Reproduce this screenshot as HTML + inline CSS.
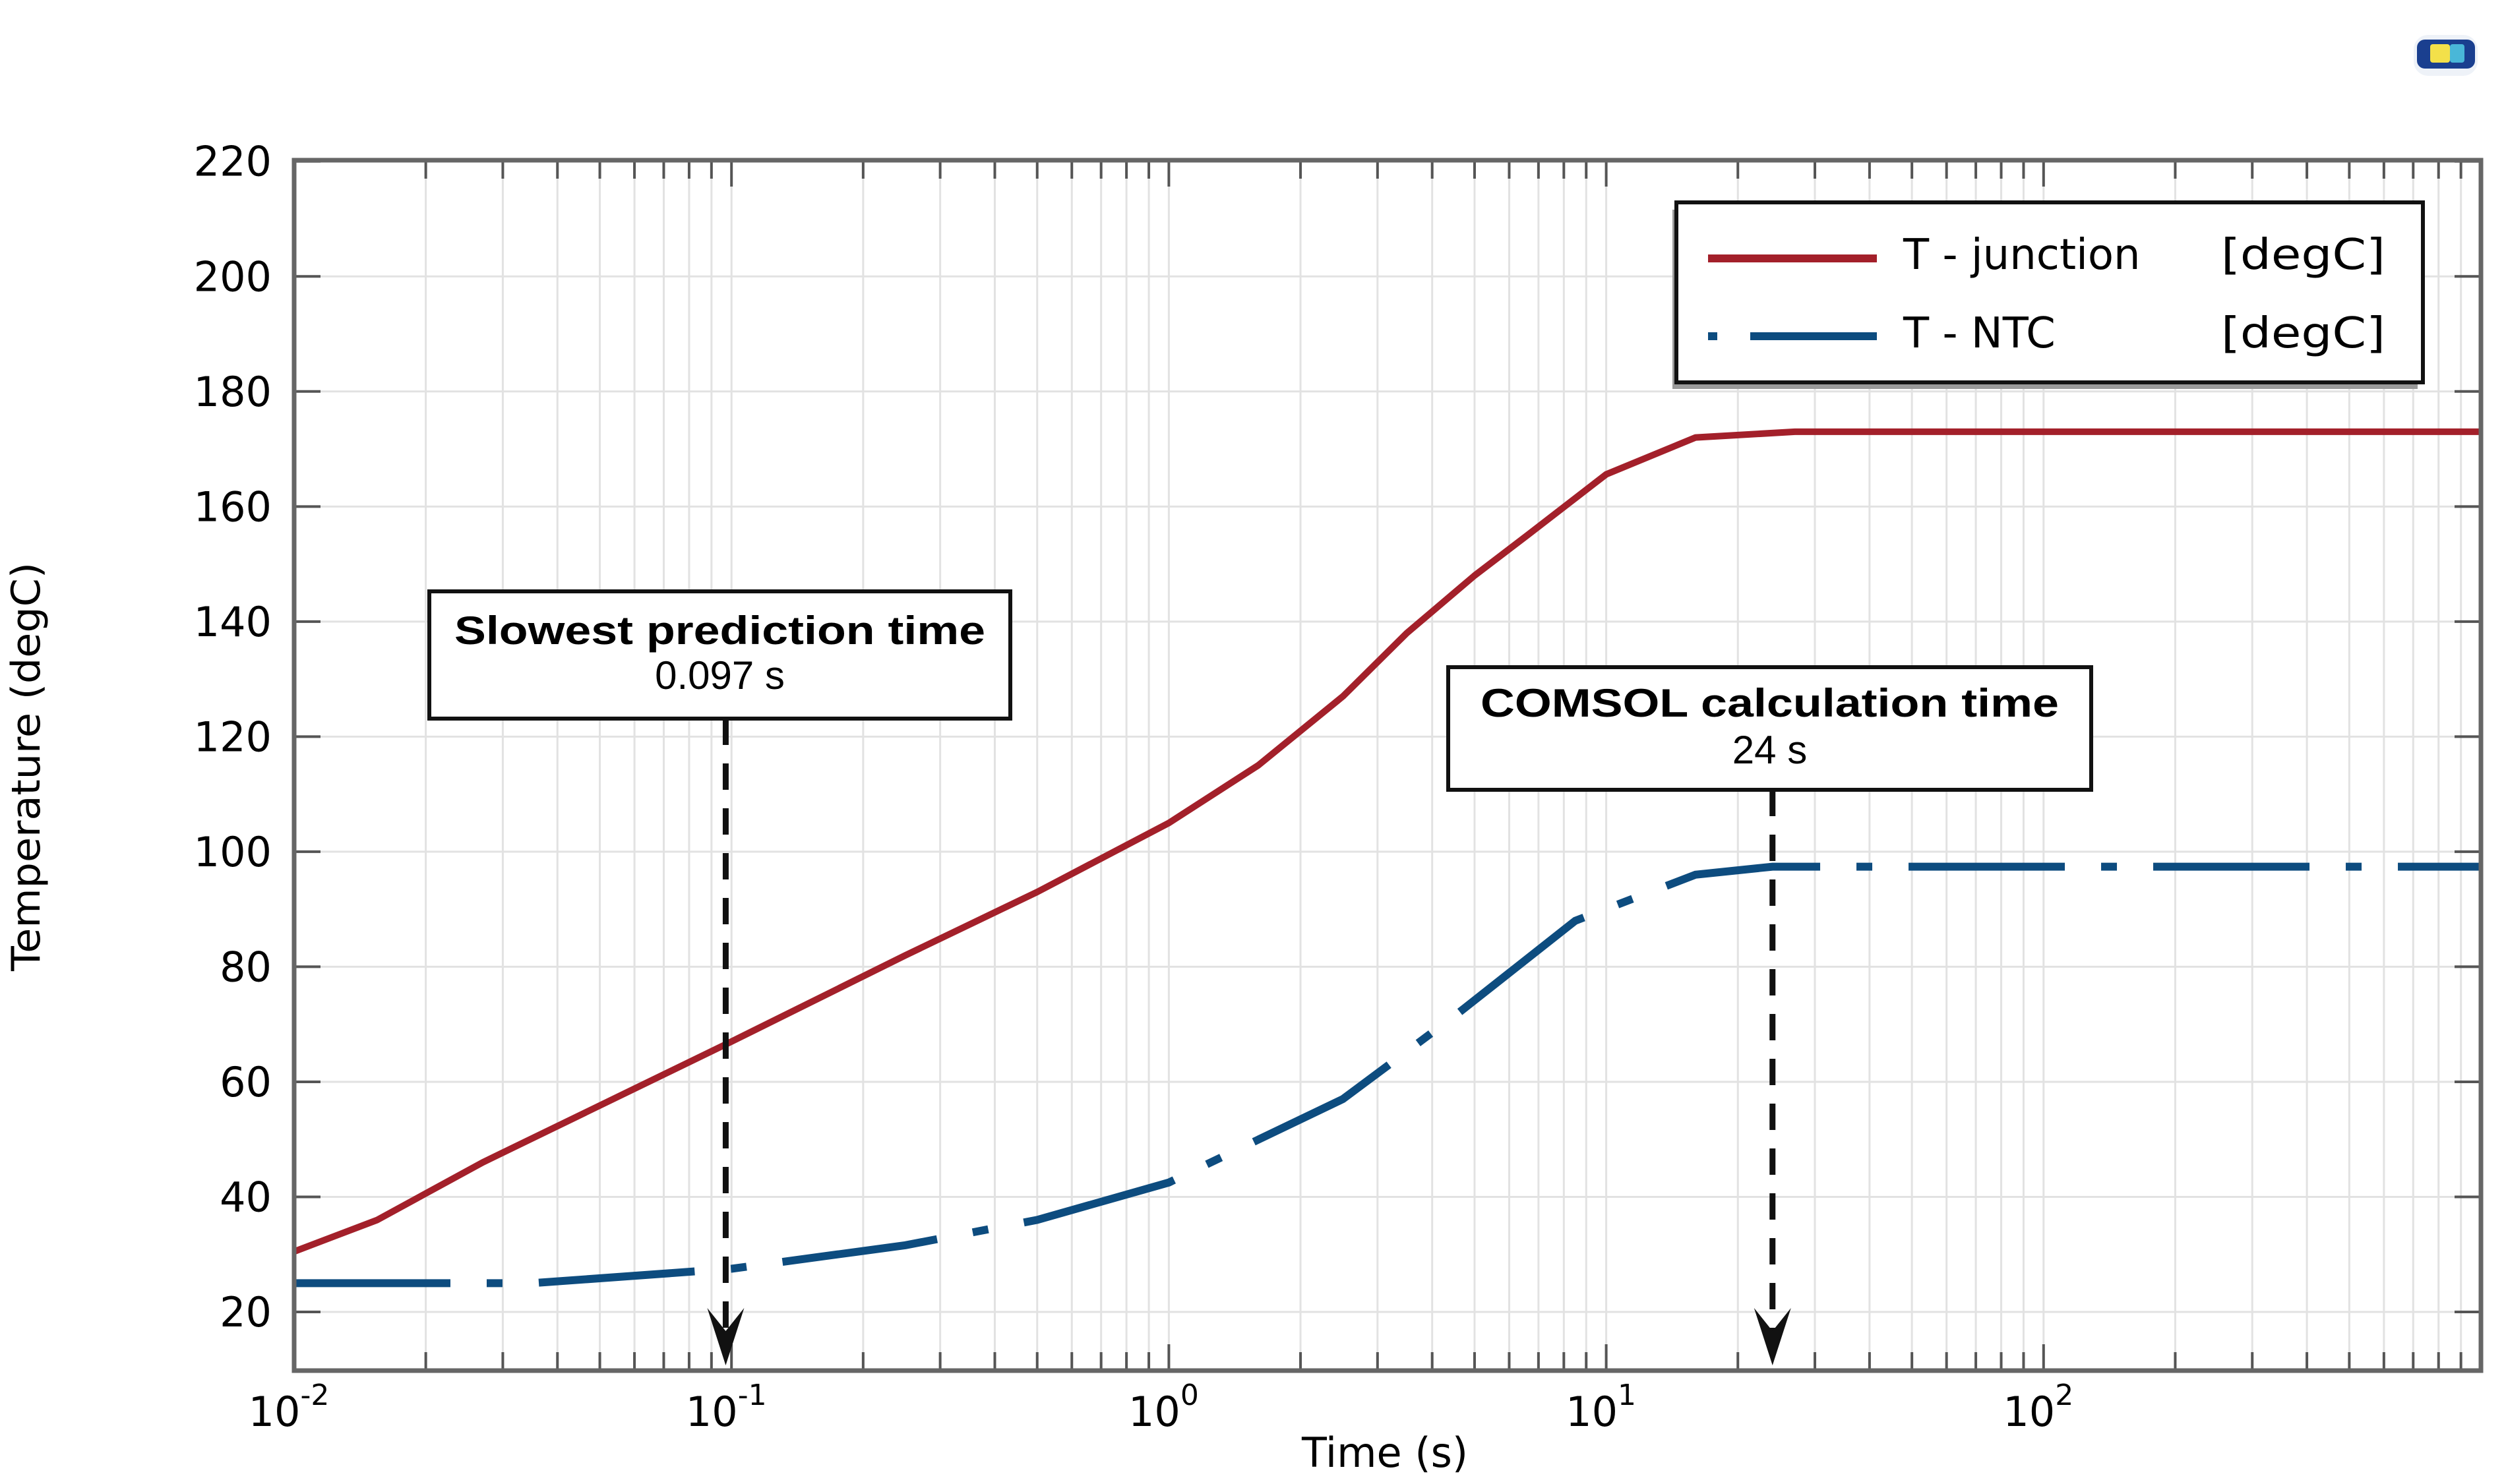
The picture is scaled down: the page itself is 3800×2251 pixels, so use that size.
<!DOCTYPE html>
<html><head><meta charset="utf-8"><style>
html,body{margin:0;padding:0;background:#fff;}
svg{display:block;}
text{font-family:"DejaVu Sans","Liberation Sans",sans-serif;}
</style></head><body>
<svg id="chart" width="3800" height="2251" viewBox="0 0 3800 2251" xmlns="http://www.w3.org/2000/svg">
<g id="grid"></g>
<g id="series"></g>
<g id="axes"></g>
<g id="annot"></g>
<text x="60" y="1163" transform="rotate(-90 60 1163)" text-anchor="middle" font-size="60" textLength="620" lengthAdjust="spacingAndGlyphs">Temperature (degC)</text>
<text x="2100" y="2225" text-anchor="middle" font-size="62">Time (s)</text>
<g>
<rect x="3660" y="53" width="97" height="62" rx="22" fill="#eef2f8"/>
<rect x="3665" y="60" width="88" height="44" rx="12" fill="#1a3f8f"/>
<rect x="3685" y="67" width="30" height="28" rx="4" fill="#f3e04a"/>
<rect x="3715" y="67" width="22" height="28" rx="4" fill="#49b7d8"/>
</g>
</svg>
<script>
const xTickExps = [-2, -1, 0, 1, 2];
const yTicks = [20, 40, 60, 80, 100, 120, 140, 160, 180, 200, 220];
const junctionT = [0.01, 0.0155, 0.027, 0.1, 0.25, 0.5, 1, 1.6, 2.5, 3.5, 5, 6.6, 10, 16, 27, 1000];
const junctionV = [30.5, 36, 46, 67, 82, 93, 105, 115, 127, 138, 148, 155, 165.6, 172, 173, 173];
const ntcT = [0.01, 0.035, 0.1, 0.25, 0.5, 1, 2.5, 4.6, 8.5, 16, 24, 1000];
const ntcV = [25, 25, 27.5, 31.6, 36, 42.5, 57, 72, 88, 96, 97.4, 97.4];
const markerTimes = [0.097, 24];

const NS = "http://www.w3.org/2000/svg";
const X0 = 446, X1 = 3762, Y0 = 2079, Y1 = 243;
const xMin = -2, xMax = 3, yMin = 9.8, yMax = 220.2;
function xs(t){ return X0 + (Math.log10(t) - xMin) / (xMax - xMin) * (X1 - X0); }
function ys(v){ return Y0 - (v - yMin) / (yMax - yMin) * (Y0 - Y1); }
function mk(tag, attrs, parent){ const e = document.createElementNS(NS, tag); for (const k in attrs) e.setAttribute(k, attrs[k]); parent.appendChild(e); return e; }

const grid = document.getElementById('grid');
const axes = document.getElementById('axes');
const series = document.getElementById('series');
const annot = document.getElementById('annot');

mk('rect', {x: X0, y: Y1, width: X1 - X0, height: Y0 - Y1, fill: '#fff'}, grid);
for (let e = xMin; e < xMax; e++) {
  for (let m = 1; m <= 9; m++) {
    const x = xs(m * Math.pow(10, e));
    const gl = mk('line', {x1: x, x2: x, y1: Y1, y2: Y0, stroke: '#e2e2e2', 'stroke-width': 3}, grid);
    
    
    const len = m === 1 ? 40 : 28;
    const tb = mk('line', {x1: x, x2: x, y1: Y0, y2: Y0 - len, stroke: '#555', 'stroke-width': 4}, axes);
    
    
    const tt = mk('line', {x1: x, x2: x, y1: Y1, y2: Y1 + len, stroke: '#555', 'stroke-width': 4}, axes);
    
    
  }
}
yTicks.forEach(v => {
  const y = ys(v);
  const gl = mk('line', {x1: X0, x2: X1, y1: y, y2: y, stroke: '#e2e2e2', 'stroke-width': 3}, grid);
  
  
  const t1 = mk('line', {x1: X0, x2: X0 + 40, y1: y, y2: y, stroke: '#555', 'stroke-width': 4}, axes);
  
  
  const t2 = mk('line', {x1: X1, x2: X1 - 40, y1: y, y2: y, stroke: '#555', 'stroke-width': 4}, axes);
  
  
  const lab = mk('text', {x: 412, y: y + 22, 'text-anchor': 'end', 'font-size': 62}, axes);
  lab.textContent = v;
  
  
});
const frame = mk('rect', {x: X0, y: Y1, width: X1 - X0, height: Y0 - Y1, fill: 'none', stroke: '#666', 'stroke-width': 7}, axes);


xTickExps.forEach(e => {
  const x = xs(Math.pow(10, e));
  const t = mk('text', {x: x - 8, y: 2163, 'text-anchor': 'middle', 'font-size': 62}, axes);
  t.textContent = '10';
  const s = mk('tspan', {dy: -32, 'font-size': 44}, t);
  s.textContent = String(e);
  
  
});

function pathD(ts, vs){ return ts.map((t, i) => (i ? 'L' : 'M') + xs(t).toFixed(1) + ' ' + ys(vs[i]).toFixed(1)).join(' '); }
const jl = mk('path', {d: pathD(junctionT, junctionV), fill: 'none', stroke: '#a3202a', 'stroke-width': 10, 'stroke-linejoin': 'round'}, series);


const nl = mk('path', {d: pathD(ntcT, ntcV), fill: 'none', stroke: '#0d4c7f', 'stroke-width': 12, 'stroke-dasharray': '237 55 24 55'}, series);



// legend
const lg = mk('g', {}, annot);


mk('rect', {x: 2536, y: 318, width: 1130, height: 272, fill: '#999'}, lg);
mk('rect', {x: 2542, y: 307, width: 1132, height: 273, fill: '#fff', stroke: '#111', 'stroke-width': 6}, lg);
const le1 = mk('line', {x1: 2590, x2: 2846, y1: 392, y2: 392, stroke: '#a3202a', 'stroke-width': 12}, lg);


const le2 = mk('line', {x1: 2590, x2: 2846, y1: 510, y2: 510, stroke: '#0d4c7f', 'stroke-width': 12, 'stroke-dasharray': '14 50 192 0'}, lg);


[['T - junction', 408, 'legend-label-junction'], ['T - NTC', 527, 'legend-label-ntc']].forEach(r => {
  const t = mk('text', {x: 2886, y: r[1], 'font-size': 64}, lg);
  t.textContent = r[0];
  
  
  const u = mk('text', {x: 3368, y: r[1], 'font-size': 64, textLength: 249, lengthAdjust: 'spacingAndGlyphs'}, lg);
  u.textContent = '[degC]';
  
  
});

// annotation boxes
const boxes = [
  {x: 651, y: 897, w: 881, h: 193, t1: 'Slowest prediction time', t2: '0.097 s', b1: 977, b2: 1045, tl: 805, name: 'slowest-prediction-callout'},
  {x: 2196, y: 1012, w: 975, h: 186, t1: 'COMSOL calculation time', t2: '24 s', b1: 1087, b2: 1158, tl: 877, name: 'comsol-time-callout'}
];
boxes.forEach((b, i) => {
  const g = mk('g', {}, annot);
  
  
  mk('rect', {x: b.x, y: b.y, width: b.w, height: b.h, fill: '#fff', stroke: '#111', 'stroke-width': 6}, g);
  const cx = b.x + b.w / 2;
  const t1 = mk('text', {x: cx, y: b.b1, 'text-anchor': 'middle', 'font-size': 60, 'font-weight': 'bold', textLength: b.tl, lengthAdjust: 'spacingAndGlyphs', style: 'font-family:"Liberation Sans",sans-serif'}, g);
  t1.textContent = b.t1;
  
  
  const t2 = mk('text', {x: cx, y: b.b2, 'text-anchor': 'middle', 'font-size': 60, style: 'font-family:"Liberation Sans",sans-serif'}, g);
  t2.textContent = b.t2;
  
  
  const ax = xs(markerTimes[i]);
  const arr = mk('line', {x1: ax, x2: ax, y1: b.y + b.h, y2: Y0 - 45, stroke: '#111', 'stroke-width': 9, 'stroke-dasharray': '40 28'}, g);
  
  
  const head = mk('path', {d: `M${ax - 28} ${Y0 - 95} L${ax} ${Y0 - 60} L${ax + 28} ${Y0 - 95} L${ax} ${Y0 - 8} Z`, fill: '#111'}, g);
  
  
});
</script>
</body></html>
